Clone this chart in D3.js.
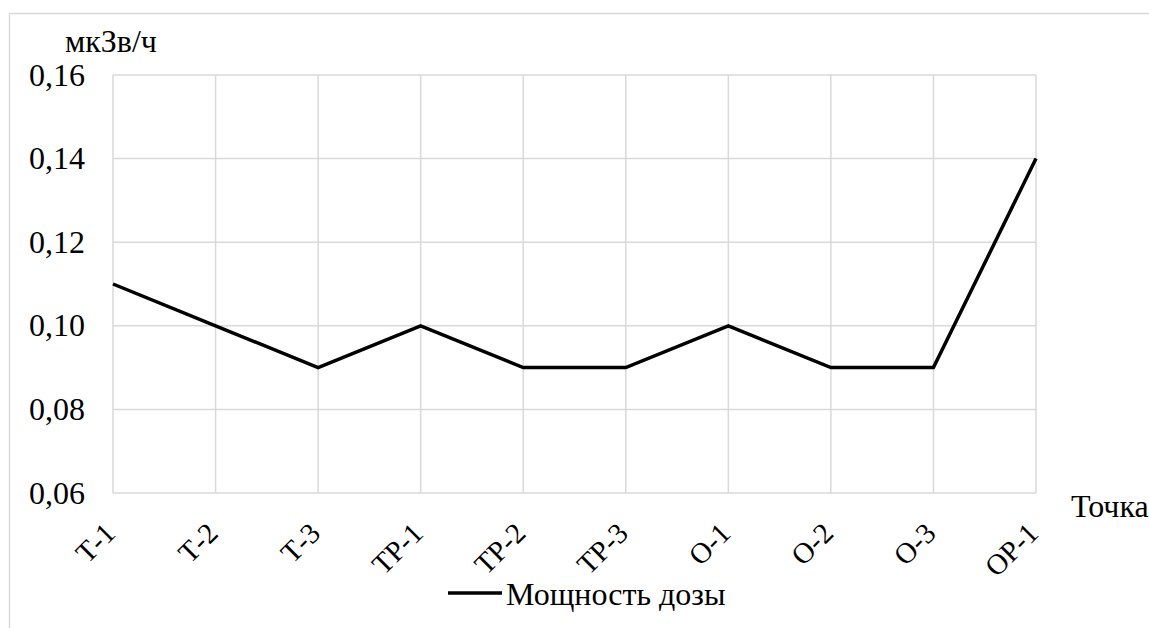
<!DOCTYPE html>
<html>
<head>
<meta charset="utf-8">
<script src="https://cdn.jsdelivr.net/npm/d3@7"></script>
<style>
  body { margin: 0; background: #fff; overflow: hidden; }
</style>
</head>
<body>
<div id="chart"></div>
<script>
const categories = ['Т-1', 'Т-2', 'Т-3', 'ТР-1', 'ТР-2', 'ТР-3', 'О-1', 'О-2', 'О-3', 'ОР-1'];
const doseValues = [0.11, 0.10, 0.09, 0.10, 0.09, 0.09, 0.10, 0.09, 0.09, 0.14];
const yTicks = [0.06, 0.08, 0.10, 0.12, 0.14, 0.16];
const seriesName = 'Мощность дозы';
const yUnit = 'мкЗв/ч';
const xTitle = 'Точка';

const width = 1149, height = 628;
const margin = { top: 75, right: 113, bottom: 135, left: 113 };
const innerWidth = width - margin.left - margin.right;
const innerHeight = height - margin.top - margin.bottom;
const serif = '"Liberation Serif", "Times New Roman", Tinos, "DejaVu Serif", serif';

const svg = d3.select('#chart').append('svg')
  .attr('width', width)
  .attr('height', height)
  .style('display', 'block')
  .attr('font-family', serif);

// outer frame (only top and left edges fall inside the picture)
svg.append('path')
  .attr('d', `M9.5,${height} V13.5 H${width}`)
  .attr('fill', 'none')
  .attr('stroke', '#d9d9d9')
  .attr('stroke-width', 1.5);

const g = svg.append('g')
  .attr('transform', `translate(${margin.left},${margin.top})`);

const x = d3.scalePoint()
  .domain(categories)
  .range([0, innerWidth]);

const y = d3.scaleLinear()
  .domain([0.06, 0.16])
  .range([innerHeight, 0]);

// grid
g.append('g')
  .selectAll('line')
  .data(yTicks)
  .join('line')
  .attr('x1', 0).attr('x2', innerWidth)
  .attr('y1', d => y(d)).attr('y2', d => y(d))
  .attr('stroke', '#d9d9d9')
  .attr('stroke-width', 1.5);

g.append('g')
  .selectAll('line')
  .data(categories)
  .join('line')
  .attr('x1', d => x(d)).attr('x2', d => x(d))
  .attr('y1', 0).attr('y2', innerHeight)
  .attr('stroke', '#d9d9d9')
  .attr('stroke-width', 1.5);

// y tick labels
g.append('g')
  .selectAll('text')
  .data(yTicks)
  .join('text')
  .attr('x', -28)
  .attr('y', d => y(d))
  .attr('dy', '0.33em')
  .attr('text-anchor', 'end')
  .attr('font-size', '32px')
  .attr('font-family', serif)
  .text(d => d.toFixed(2).replace('.', ','));

// x tick labels
g.append('g')
  .selectAll('text')
  .data(categories)
  .join('text')
  .attr('transform', d => `translate(${x(d) + 4},${innerHeight + 42}) rotate(-45)`)
  .attr('text-anchor', 'end')
  .attr('font-size', '29px')
  .attr('font-family', serif)
  .text(d => d);

// unit label
svg.append('text')
  .attr('x', 65).attr('y', 52)
  .attr('font-size', '32px')
  .attr('font-family', serif)
  .text(yUnit);

// x title
svg.append('text')
  .attr('x', 1071).attr('y', 517)
  .attr('font-size', '32px')
  .attr('font-family', serif)
  .text(xTitle);

// line
const line = d3.line()
  .x((d, i) => x(categories[i]))
  .y(d => y(d));

g.append('path')
  .datum(doseValues)
  .attr('fill', 'none')
  .attr('stroke', '#000')
  .attr('stroke-width', 3.5)
  .attr('d', line);

// legend
const legend = svg.append('g').attr('transform', 'translate(448,593)');
legend.append('line')
  .attr('x1', 0).attr('x2', 54)
  .attr('y1', 0).attr('y2', 0)
  .attr('stroke', '#000')
  .attr('stroke-width', 3.5);
legend.append('text')
  .attr('x', 58).attr('y', 12)
  .attr('font-size', '32px')
  .attr('font-family', serif)
  .text(seriesName);
</script>
</body>
</html>
